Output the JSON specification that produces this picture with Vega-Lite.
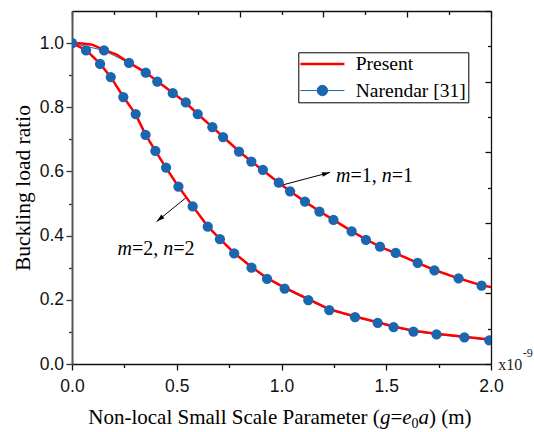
{
  "$schema": "https://vega.github.io/schema/vega-lite/v6.json",
  "width": 419,
  "height": 353,
  "autosize": {"type": "none"},
  "padding": {"left": 72, "top": 11, "right": 43, "bottom": 68},
  "background": "white",
  "config": {
    "view": {"stroke": null},
    "axis": {"grid": false, "labelFont": "Liberation Sans", "labelFontSize": 17.5, "labelColor": "#111", "tickColor": "#111", "domainColor": "#111", "labelFlush": false, "tickWidth": 1.3, "domainWidth": 1.3, "zindex": 1}
  },
  "datasets": {
    "main": [
      {"s":"Present","c":"1","x":0,"y":1.0},{"s":"Present","c":"1","x":0.05,"y":0.999},{"s":"Present","c":"1","x":0.096,"y":0.995},{"s":"Present","c":"1","x":0.153,"y":0.979},{"s":"Present","c":"1","x":0.213,"y":0.964},{"s":"Present","c":"1","x":0.272,"y":0.939},{"s":"Present","c":"1","x":0.352,"y":0.908},{"s":"Present","c":"1","x":0.407,"y":0.881},{"s":"Present","c":"1","x":0.481,"y":0.845},{"s":"Present","c":"1","x":0.543,"y":0.814},{"s":"Present","c":"1","x":0.600,"y":0.779},{"s":"Present","c":"1","x":0.670,"y":0.738},{"s":"Present","c":"1","x":0.721,"y":0.708},{"s":"Present","c":"1","x":0.797,"y":0.663},{"s":"Present","c":"1","x":0.856,"y":0.631},{"s":"Present","c":"1","x":0.911,"y":0.604},{"s":"Present","c":"1","x":0.987,"y":0.565},{"s":"Present","c":"1","x":1.041,"y":0.538},{"s":"Present","c":"1","x":1.112,"y":0.506},{"s":"Present","c":"1","x":1.181,"y":0.476},{"s":"Present","c":"1","x":1.248,"y":0.449},{"s":"Present","c":"1","x":1.335,"y":0.414},{"s":"Present","c":"1","x":1.403,"y":0.388},{"s":"Present","c":"1","x":1.470,"y":0.366},{"s":"Present","c":"1","x":1.545,"y":0.345},{"s":"Present","c":"1","x":1.650,"y":0.315},{"s":"Present","c":"1","x":1.730,"y":0.293},{"s":"Present","c":"1","x":1.845,"y":0.267},{"s":"Present","c":"1","x":1.955,"y":0.245},{"s":"Present","c":"1","x":2.0,"y":0.240},
      {"s":"Present","c":"2","x":0,"y":1.0},{"s":"Present","c":"2","x":0.067,"y":0.978},{"s":"Present","c":"2","x":0.134,"y":0.936},{"s":"Present","c":"2","x":0.185,"y":0.894},{"s":"Present","c":"2","x":0.245,"y":0.833},{"s":"Present","c":"2","x":0.304,"y":0.778},{"s":"Present","c":"2","x":0.351,"y":0.715},{"s":"Present","c":"2","x":0.398,"y":0.664},{"s":"Present","c":"2","x":0.449,"y":0.611},{"s":"Present","c":"2","x":0.508,"y":0.553},{"s":"Present","c":"2","x":0.576,"y":0.492},{"s":"Present","c":"2","x":0.648,"y":0.429},{"s":"Present","c":"2","x":0.706,"y":0.390},{"s":"Present","c":"2","x":0.774,"y":0.346},{"s":"Present","c":"2","x":0.857,"y":0.302},{"s":"Present","c":"2","x":0.931,"y":0.268},{"s":"Present","c":"2","x":1.015,"y":0.238},{"s":"Present","c":"2","x":1.128,"y":0.202},{"s":"Present","c":"2","x":1.228,"y":0.171},{"s":"Present","c":"2","x":1.351,"y":0.148},{"s":"Present","c":"2","x":1.459,"y":0.130},{"s":"Present","c":"2","x":1.535,"y":0.117},{"s":"Present","c":"2","x":1.630,"y":0.104},{"s":"Present","c":"2","x":1.740,"y":0.094},{"s":"Present","c":"2","x":1.873,"y":0.085},{"s":"Present","c":"2","x":1.992,"y":0.076},{"s":"Present","c":"2","x":2.0,"y":0.075},
      {"s":"Narendar [31]","c":"1","x":0,"y":1.0},{"s":"Narendar [31]","c":"1","x":0.153,"y":0.977},{"s":"Narendar [31]","c":"1","x":0.272,"y":0.938},{"s":"Narendar [31]","c":"1","x":0.352,"y":0.908},{"s":"Narendar [31]","c":"1","x":0.407,"y":0.880},{"s":"Narendar [31]","c":"1","x":0.481,"y":0.844},{"s":"Narendar [31]","c":"1","x":0.543,"y":0.815},{"s":"Narendar [31]","c":"1","x":0.600,"y":0.779},{"s":"Narendar [31]","c":"1","x":0.670,"y":0.738},{"s":"Narendar [31]","c":"1","x":0.721,"y":0.707},{"s":"Narendar [31]","c":"1","x":0.797,"y":0.662},{"s":"Narendar [31]","c":"1","x":0.856,"y":0.631},{"s":"Narendar [31]","c":"1","x":0.911,"y":0.605},{"s":"Narendar [31]","c":"1","x":0.987,"y":0.565},{"s":"Narendar [31]","c":"1","x":1.041,"y":0.538},{"s":"Narendar [31]","c":"1","x":1.112,"y":0.506},{"s":"Narendar [31]","c":"1","x":1.181,"y":0.475},{"s":"Narendar [31]","c":"1","x":1.248,"y":0.449},{"s":"Narendar [31]","c":"1","x":1.335,"y":0.413},{"s":"Narendar [31]","c":"1","x":1.403,"y":0.387},{"s":"Narendar [31]","c":"1","x":1.470,"y":0.366},{"s":"Narendar [31]","c":"1","x":1.545,"y":0.346},{"s":"Narendar [31]","c":"1","x":1.650,"y":0.315},{"s":"Narendar [31]","c":"1","x":1.730,"y":0.292},{"s":"Narendar [31]","c":"1","x":1.845,"y":0.267},{"s":"Narendar [31]","c":"1","x":1.955,"y":0.244},
      {"s":"Narendar [31]","c":"2","x":0,"y":1.0},{"s":"Narendar [31]","c":"2","x":0.067,"y":0.977},{"s":"Narendar [31]","c":"2","x":0.134,"y":0.935},{"s":"Narendar [31]","c":"2","x":0.185,"y":0.894},{"s":"Narendar [31]","c":"2","x":0.245,"y":0.832},{"s":"Narendar [31]","c":"2","x":0.304,"y":0.779},{"s":"Narendar [31]","c":"2","x":0.351,"y":0.714},{"s":"Narendar [31]","c":"2","x":0.398,"y":0.664},{"s":"Narendar [31]","c":"2","x":0.449,"y":0.612},{"s":"Narendar [31]","c":"2","x":0.508,"y":0.553},{"s":"Narendar [31]","c":"2","x":0.576,"y":0.491},{"s":"Narendar [31]","c":"2","x":0.648,"y":0.428},{"s":"Narendar [31]","c":"2","x":0.706,"y":0.389},{"s":"Narendar [31]","c":"2","x":0.774,"y":0.345},{"s":"Narendar [31]","c":"2","x":0.857,"y":0.300},{"s":"Narendar [31]","c":"2","x":0.931,"y":0.265},{"s":"Narendar [31]","c":"2","x":1.015,"y":0.235},{"s":"Narendar [31]","c":"2","x":1.128,"y":0.199},{"s":"Narendar [31]","c":"2","x":1.228,"y":0.168},{"s":"Narendar [31]","c":"2","x":1.351,"y":0.146},{"s":"Narendar [31]","c":"2","x":1.459,"y":0.128},{"s":"Narendar [31]","c":"2","x":1.535,"y":0.115},{"s":"Narendar [31]","c":"2","x":1.630,"y":0.101},{"s":"Narendar [31]","c":"2","x":1.740,"y":0.092},{"s":"Narendar [31]","c":"2","x":1.873,"y":0.083},{"s":"Narendar [31]","c":"2","x":1.992,"y":0.074}
    ],
    "arrows": [
      {"id":"a","x":1.009,"y":0.5586,"x2":1.2315,"y2":0.597},
      {"id":"b","x":0.542,"y":0.517,"x2":0.404,"y2":0.444}
    ],
    "labels": [
      {"k":"n","t":"Non-local Small Scale Parameter (","x":0.0778,"y":-0.186},
      {"k":"i","t":"g","x":1.4697,"y":-0.186},
      {"k":"n","t":"=","x":1.5198,"y":-0.186},
      {"k":"i","t":"e","x":1.5761,"y":-0.186},
      {"k":"s","t":"0","x":1.6205,"y":-0.1985},
      {"k":"i","t":"a","x":1.6539,"y":-0.186},
      {"k":"n","t":") (m)","x":1.7041,"y":-0.186},
      {"k":"ai","t":"m","x":1.2601,"y":0.566},
      {"k":"an","t":"=1,","x":1.3291,"y":0.566},
      {"k":"ai","t":"n","x":1.4784,"y":0.566},
      {"k":"an","t":"=1","x":1.5261,"y":0.566},
      {"k":"ai","t":"m","x":0.2172,"y":0.3396},
      {"k":"an","t":"=2,","x":0.2861,"y":0.3396},
      {"k":"ai","t":"n","x":0.4354,"y":0.3396},
      {"k":"an","t":"=2","x":0.4832,"y":0.3396},
      {"k":"x","t":"x10","x":2.0349,"y":-0.0187},
      {"k":"e","t":"-9","x":2.1513,"y":0.0218}
    ]
  },
  "resolve": {"axis": {"x": "independent", "y": "independent"}},
  "layer": [
    {
      "data": {"name": "main"},
      "transform": [{"filter": "datum.s === 'Narendar [31]'"}],
      "mark": {"type": "line", "strokeWidth": 1, "color": "#1a67b0", "clip": true},
      "encoding": {
        "x": {"field": "x", "type": "quantitative", "scale": {"domain": [0, 2], "nice": false, "zero": false},
              "axis": {"orient": "bottom", "values": [0.25, 0.75, 1.25, 1.75], "tickSize": 3.5, "labels": false, "domain": false, "title": null}},
        "y": {"field": "y", "type": "quantitative", "scale": {"domain": [0, 1.1], "nice": false, "zero": false},
              "axis": {"orient": "left", "values": [0.1, 0.3, 0.5, 0.7, 0.9], "tickSize": 3.5, "labels": false, "domain": false, "title": null, "tickColor": "#333"}},
        "detail": {"field": "c"}
      }
    },
    {
      "data": {"name": "main"},
      "transform": [{"filter": "datum.s === 'Present'"}],
      "mark": {"type": "line", "strokeWidth": 2.5, "clip": true},
      "encoding": {
        "x": {"field": "x", "type": "quantitative", "scale": {"domain": [0, 2], "nice": false, "zero": false},
              "axis": {"orient": "bottom", "values": [0, 0.5, 1, 1.5, 2], "format": ".1f", "tickSize": 6, "labelPadding": 7, "domainWidth": 1.5, "title": null}},
        "y": {"field": "y", "type": "quantitative", "scale": {"domain": [0, 1.1], "nice": false, "zero": false},
              "axis": {"orient": "left", "values": [0, 0.2, 0.4, 0.6, 0.8, 1.0], "format": ".1f", "tickSize": 6, "labelPadding": 2.5, "domainColor": "#555", "domainWidth": 2, "tickColor": "#333",
                       "title": "Buckling load ratio", "titleFont": "Liberation Serif", "titleFontSize": 21.5, "titleFontWeight": "normal", "titleColor": "black", "titlePadding": 5}},
        "color": {"field": "s", "type": "nominal",
                  "scale": {"domain": ["Present", "Narendar [31]"], "range": ["#ff0000", "#1a67b0"]},
                  "legend": {
                    "orient": "none", "legendX": 226.3, "legendY": 41.3, "title": null, "direction": "vertical",
                    "padding": 2, "rowPadding": 5.5, "symbolOffset": 12.35, "labelOffset": 23.6,
                    "labelFont": "Liberation Serif", "labelFontSize": 19.5, "labelColor": "black", "labelLimit": 300,
                    "strokeColor": "black", "fillColor": "white", "symbolSize": 121,
                    "encode": {
                      "symbols": {
                        "update": {
                          "shape": {"signal": "datum.value === 'Present' ? 'M-4,0H4' : 'M-4,0H-0.95M0.95,0H4M-0.95,0A0.95,0.95,0,1,1,0.95,0A0.95,0.95,0,1,1,-0.95,0Z'"},
                          "fill": {"signal": "datum.value === 'Present' ? 'transparent' : '#1a67b0'"},
                          "stroke": {"signal": "datum.value === 'Present' ? '#ff0000' : '#1a67b0'"},
                          "strokeWidth": {"signal": "datum.value === 'Present' ? 2.5 : 1"},
                          "size": {"value": 121},
                          "opacity": {"value": 1}
                        }
                      }
                    }
                  }},
        "detail": {"field": "c"}
      }
    },
    {
      "data": {"name": "main"},
      "transform": [{"filter": "datum.s === 'Narendar [31]'"}],
      "mark": {"type": "point", "filled": true, "size": 105, "color": "#1a67b0", "opacity": 1, "clip": true},
      "encoding": {
        "x": {"field": "x", "type": "quantitative",
              "axis": {"orient": "top", "values": [0, 0.4, 0.8, 1.2, 1.6, 2.0], "tickSize": -6, "labels": false, "domain": true, "title": null}},
        "y": {"field": "y", "type": "quantitative",
              "axis": {"orient": "right", "values": [0, 0.22, 0.44, 0.66, 0.88, 1.1], "tickSize": -6, "labels": false, "domain": true, "title": null}}
      }
    },
    {
      "data": {"name": "arrows"},
      "mark": {"type": "rule", "color": "black", "strokeWidth": 1},
      "encoding": {
        "x": {"field": "x", "type": "quantitative",
              "axis": {"orient": "top", "values": [0.2, 0.6, 1.0, 1.4, 1.8], "tickSize": -3.5, "labels": false, "domain": false, "title": null}},
        "y": {"field": "y", "type": "quantitative",
              "axis": {"orient": "right", "values": [0.11, 0.33, 0.55, 0.77, 0.99], "tickSize": -3.5, "labels": false, "domain": false, "title": null}},
        "x2": {"field": "x2"},
        "y2": {"field": "y2"}
      }
    },
    {
      "data": {"name": "arrows"},
      "transform": [{"filter": "datum.id === 'a'"}],
      "mark": {"type": "point", "shape": "M0,0L0.6,2L-0.6,2Z", "size": 64, "filled": true, "color": "black", "opacity": 1, "angle": 75},
      "encoding": {
        "x": {"field": "x2", "type": "quantitative", "axis": null},
        "y": {"field": "y2", "type": "quantitative", "axis": null}
      }
    },
    {
      "data": {"name": "arrows"},
      "transform": [{"filter": "datum.id === 'b'"}],
      "mark": {"type": "point", "shape": "M0,0L0.6,2L-0.6,2Z", "size": 64, "filled": true, "color": "black", "opacity": 1, "angle": 231},
      "encoding": {
        "x": {"field": "x2", "type": "quantitative", "axis": null},
        "y": {"field": "y2", "type": "quantitative", "axis": null}
      }
    },
    {
      "data": {"name": "labels"},
      "transform": [{"filter": "datum.k === 'n'"}],
      "mark": {"type": "text", "align": "left", "baseline": "alphabetic", "font": "Liberation Serif", "fontSize": 21, "color": "black"},
      "encoding": {
        "x": {"field": "x", "type": "quantitative", "axis": null},
        "y": {"field": "y", "type": "quantitative", "axis": null},
        "text": {"field": "t"}
      }
    },
    {
      "data": {"name": "labels"},
      "transform": [{"filter": "datum.k === 'i'"}],
      "mark": {"type": "text", "align": "left", "baseline": "alphabetic", "font": "Liberation Serif", "fontStyle": "italic", "fontSize": 21, "color": "black"},
      "encoding": {
        "x": {"field": "x", "type": "quantitative", "axis": null},
        "y": {"field": "y", "type": "quantitative", "axis": null},
        "text": {"field": "t"}
      }
    },
    {
      "data": {"name": "labels"},
      "transform": [{"filter": "datum.k === 's'"}],
      "mark": {"type": "text", "align": "left", "baseline": "alphabetic", "font": "Liberation Serif", "fontSize": 14, "color": "black"},
      "encoding": {
        "x": {"field": "x", "type": "quantitative", "axis": null},
        "y": {"field": "y", "type": "quantitative", "axis": null},
        "text": {"field": "t"}
      }
    },
    {
      "data": {"name": "labels"},
      "transform": [{"filter": "datum.k === 'ai'"}],
      "mark": {"type": "text", "align": "left", "baseline": "alphabetic", "font": "Liberation Serif", "fontStyle": "italic", "fontSize": 20, "color": "black"},
      "encoding": {
        "x": {"field": "x", "type": "quantitative", "axis": null},
        "y": {"field": "y", "type": "quantitative", "axis": null},
        "text": {"field": "t"}
      }
    },
    {
      "data": {"name": "labels"},
      "transform": [{"filter": "datum.k === 'an'"}],
      "mark": {"type": "text", "align": "left", "baseline": "alphabetic", "font": "Liberation Serif", "fontSize": 20, "color": "black"},
      "encoding": {
        "x": {"field": "x", "type": "quantitative", "axis": null},
        "y": {"field": "y", "type": "quantitative", "axis": null},
        "text": {"field": "t"}
      }
    },
    {
      "data": {"name": "labels"},
      "transform": [{"filter": "datum.k === 'x'"}],
      "mark": {"type": "text", "align": "left", "baseline": "alphabetic", "font": "Liberation Serif", "fontSize": 16, "color": "#222"},
      "encoding": {
        "x": {"field": "x", "type": "quantitative", "axis": null},
        "y": {"field": "y", "type": "quantitative", "axis": null},
        "text": {"field": "t"}
      }
    },
    {
      "data": {"name": "labels"},
      "transform": [{"filter": "datum.k === 'e'"}],
      "mark": {"type": "text", "align": "left", "baseline": "alphabetic", "font": "Liberation Serif", "fontSize": 12, "color": "#222"},
      "encoding": {
        "x": {"field": "x", "type": "quantitative", "axis": null},
        "y": {"field": "y", "type": "quantitative", "axis": null},
        "text": {"field": "t"}
      }
    }
  ]
}
